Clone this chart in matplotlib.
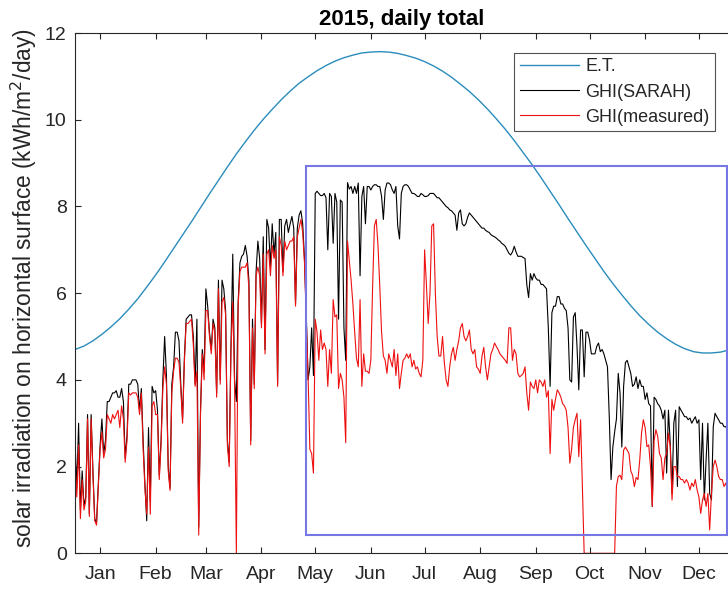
import numpy as np
import matplotlib
matplotlib.use("Agg")
import matplotlib.pyplot as plt
from matplotlib.patches import Rectangle

plt.rcParams['font.family'] = ['Liberation Sans', 'DejaVu Sans']

# ---- data -------------------------------------------------------------
days = np.arange(1, 366)

# extraterrestrial daily total (kWh/m^2/day), sampled every 5 days
et_days = [1, 6, 11, 16, 21, 26, 31, 36, 41, 46, 51, 56, 61, 66, 71, 76,
           81, 86, 91, 96, 101, 106, 111, 116, 121, 126, 131, 136, 141, 146,
           151, 156, 161, 166, 171, 176, 181, 186, 191, 196, 201, 206, 211,
           216, 221, 226, 231, 236, 241, 246, 251, 256, 261, 266, 271, 276,
           281, 286, 291, 296, 301, 306, 311, 316, 321, 326, 331, 336, 341,
           346, 351, 356, 361, 365]
et_values = [4.70, 4.78, 4.90, 5.05, 5.22, 5.41, 5.63, 5.87, 6.14, 6.42,
             6.72, 7.03, 7.34, 7.65, 7.97, 8.29, 8.60, 8.91, 9.21, 9.49,
             9.76, 10.01, 10.24, 10.46, 10.66, 10.84, 10.99, 11.13, 11.25,
             11.35, 11.43, 11.49, 11.54, 11.56, 11.57, 11.56, 11.53, 11.48,
             11.42, 11.34, 11.24, 11.12, 10.98, 10.82, 10.65, 10.46, 10.25,
             10.02, 9.78, 9.52, 9.24, 8.96, 8.66, 8.35, 8.04, 7.72, 7.41,
             7.10, 6.80, 6.50, 6.22, 5.96, 5.71, 5.48, 5.28, 5.10, 4.95,
             4.82, 4.72, 4.65, 4.62, 4.62, 4.64, 4.68]

# satellite-derived daily GHI
ghi_sarah = [
    2.6, 1.5, 3.0, 1.0, 1.9, 1.1, 1.3, 3.2, 0.9, 3.2,
    1.9, 0.8, 0.7, 1.6, 2.5, 3.1, 2.3, 2.6, 3.5, 3.5,
    3.6, 3.7, 3.7, 3.75, 3.6, 3.6, 3.8, 3.5, 2.2, 2.7,
    3.9, 3.9, 4.0, 4.0, 4.0, 3.9, 3.3, 3.8, 2.6, 1.6,
    0.75, 2.9, 1.2, 3.85, 3.7, 3.75, 3.3, 1.8, 2.6, 4.0,
    5.0, 4.1, 2.0, 1.5, 3.9, 4.3, 5.1, 5.1, 4.9, 3.9,
    3.1, 4.5, 5.4, 5.45, 5.5, 5.5, 5.0, 3.9, 5.4, 0.6,
    3.3, 4.7, 4.2, 6.1, 5.7, 5.1, 4.7, 5.4, 5.2, 3.7,
    6.3, 4.0, 6.3, 6.1, 5.6, 2.6, 2.1, 4.8, 6.9, 4.0,
    3.5, 5.8, 6.7, 6.85, 6.9, 7.1, 6.85, 6.3, 2.6, 5.4,
    3.9, 6.5, 7.2, 6.8, 5.3, 7.3, 4.7, 7.7, 7.5, 6.6,
    7.6, 6.9, 7.4, 3.9, 7.7, 7.7, 6.5, 7.55, 7.7, 7.4,
    7.6, 7.77, 7.5, 5.75, 7.5, 7.8, 7.9, 7.6, 6.8, 5.5,
    4.0, 4.3, 5.2, 4.1, 8.3, 8.35, 8.3, 8.25, 8.25, 8.3,
    8.2, 7.0, 8.3, 8.23, 7.15, 8.3, 8.1, 5.4, 8.15, 8.1,
    5.2, 4.45, 8.55, 8.4, 8.46, 8.3, 8.46, 8.3, 8.54, 6.4,
    8.23, 8.46, 7.6, 8.46, 8.46, 8.38, 8.46, 8.5, 8.5, 8.46,
    8.46, 8.23, 7.7, 8.38, 8.54, 8.54, 8.5, 8.38, 8.3, 8.46,
    7.55, 7.25, 8.3, 8.46, 8.5, 8.5, 8.46, 8.38, 8.3, 8.3,
    8.27, 8.23, 8.23, 8.3, 8.27, 8.23, 8.23, 8.25, 8.3, 8.3,
    8.3, 8.25, 8.2, 8.2, 8.15, 8.1, 8.05, 8.0, 7.97, 7.92,
    7.9, 7.85, 7.8, 7.45, 7.85, 7.92, 7.6, 7.55, 7.6, 7.75,
    7.85, 7.8, 7.75, 7.7, 7.65, 7.6, 7.55, 7.5, 7.5, 7.45,
    7.42, 7.4, 7.35, 7.32, 7.3, 7.27, 7.23, 7.2, 7.15, 7.12,
    7.08, 7.0, 6.92, 6.88, 6.95, 7.08, 6.95, 6.85, 6.85, 6.85,
    6.82, 6.8, 6.2, 5.9, 6.45, 6.3, 6.45, 6.35, 6.3, 6.3,
    6.2, 6.2, 6.15, 6.1, 5.2, 3.85, 5.55, 5.7, 5.7, 5.92,
    5.92, 5.75, 5.75, 5.65, 5.6, 5.2, 4.0, 3.95, 5.45, 5.55,
    4.77, 3.77, 5.15, 5.15, 4.07, 5.1, 5.1, 4.92, 4.6, 4.6,
    4.6, 4.77, 4.85, 4.65, 4.7, 4.6, 4.45, 4.3, 3.15, 1.7,
    2.45, 2.8, 3.1, 4.15, 3.7, 2.45, 3.85, 4.4, 4.45, 4.3,
    4.15, 3.85, 3.9, 4.07, 3.8, 4.0, 3.85, 3.85, 3.55, 3.7,
    3.45, 3.4, 1.08, 3.6, 3.55, 3.45, 3.4, 3.3, 3.1, 3.3,
    1.85, 3.3, 2.54, 1.38, 3.0, 3.3, 1.54, 3.38, 3.3, 3.23,
    3.15, 3.15, 3.08, 3.12, 3.0, 3.08, 3.15, 3.0, 3.08, 1.7,
    3.0, 1.23, 2.15, 3.0, 1.38, 1.23, 2.92, 3.23, 3.15, 3.08,
    3.0, 3.0, 2.92, 2.92, 2.85,
]

# ground-station daily GHI
ghi_measured = [
    2.1, 1.3, 2.5, 0.8, 1.7, 1.0, 1.2, 3.1, 0.85, 3.1,
    1.8, 0.75, 0.65, 1.5, 2.4, 2.8, 2.2, 2.4, 3.2, 3.1,
    3.0, 3.2, 3.1, 3.2, 3.3, 2.9, 3.4, 3.1, 2.1, 2.6,
    3.7, 3.65, 3.7, 3.7, 3.7, 3.6, 3.2, 3.7, 2.4, 1.5,
    0.9, 2.45, 0.9, 3.4, 3.5, 3.2, 3.2, 1.7, 2.5, 3.8,
    4.3, 3.9, 1.9, 1.45, 3.7, 4.2, 4.5, 4.5, 4.4, 3.8,
    3.0, 4.4, 5.3, 5.3, 5.35, 5.4, 4.8, 3.85, 4.2, 0.42,
    3.2, 4.6, 4.0, 5.6, 5.6, 5.0, 4.6, 5.3, 5.1, 3.6,
    6.1, 3.9, 5.8, 5.9, 5.5, 2.5, 2.0, 4.7, 5.8, 3.9,
    0.0, 5.7, 6.5, 6.6, 6.6, 6.6, 6.7, 6.1, 2.5, 5.2,
    3.8, 6.4, 6.6, 6.4, 5.2, 6.9, 4.6, 6.9, 7.0, 6.4,
    7.1, 6.8, 7.0, 3.85, 7.3, 7.1, 6.4, 7.2, 7.0, 7.1,
    7.2, 7.2, 7.3, 5.7, 7.3, 7.5, 7.7, 7.4, 6.7, 5.4,
    4.1, 2.4, 2.3, 1.85, 5.4, 5.1, 4.45, 5.15, 4.7, 4.85,
    4.7, 3.85, 4.7, 4.15, 5.85, 5.45, 5.5, 3.8, 4.15, 4.0,
    3.6, 2.55, 7.2, 6.75, 6.3, 5.75, 5.1, 4.5, 4.3, 5.85,
    3.85, 4.6, 4.2, 4.2, 4.15, 4.45, 6.15, 7.55, 7.7, 7.1,
    6.15, 5.1, 4.55, 4.45, 4.15, 4.6, 4.45, 4.3, 4.7, 4.1,
    4.6, 3.8, 4.15, 4.45, 4.5, 4.6, 4.5, 4.6, 4.3, 4.45,
    4.25, 4.3, 4.15, 4.07, 4.45, 7.0, 6.2, 5.3, 6.0, 7.55,
    7.6, 6.0, 5.0, 4.55, 4.55, 5.0, 4.4, 4.0, 3.85, 4.3,
    4.6, 4.75, 4.45, 4.7, 4.9, 5.2, 5.3, 5.0, 4.9, 5.0,
    5.15, 4.7, 4.6, 4.7, 4.3, 4.25, 4.15, 4.55, 4.75, 4.3,
    4.0, 4.3, 4.6, 4.7, 4.85, 4.77, 4.7, 4.6, 4.55, 4.5,
    4.45, 4.38, 5.2, 5.2, 4.45, 4.7, 4.6, 4.15, 4.07, 4.1,
    4.15, 4.3, 3.7, 3.3, 3.95, 3.85, 3.8, 4.0, 3.7, 4.0,
    3.95, 3.85, 4.0, 3.6, 3.75, 2.3, 3.55, 3.3, 3.55, 3.77,
    3.7, 3.6, 3.45, 3.4, 3.3, 2.9, 2.08, 2.4, 2.9, 3.08,
    3.23, 2.23, 3.08, 1.5, 0.0, 0.0, 0.0, 0.0, 0.0, 0.0,
    0.0, 0.0, 0.0, 0.0, 0.0, 0.0, 0.0, 0.0, 0.0, 0.0,
    0.0, 0.0, 1.55, 1.77, 1.8, 1.7, 2.38, 2.45, 2.38, 2.3,
    1.9, 1.8, 1.54, 1.75, 1.7, 2.15, 2.77, 3.08, 2.9, 2.46,
    2.5, 2.0, 1.08, 2.6, 2.85, 2.7, 2.3, 2.2, 1.7, 2.2,
    2.3, 2.77, 2.45, 1.23, 2.0, 2.0, 1.77, 1.77, 1.7, 1.7,
    1.62, 1.7, 1.62, 1.46, 1.62, 1.54, 1.7, 1.46, 1.3, 0.92,
    1.23, 1.38, 1.08, 1.38, 0.54, 1.38, 2.0, 2.15, 2.0, 1.77,
    1.7, 1.7, 1.54, 1.62, 1.46,
]

# mid-month tick positions (day of year) and labels
month_ticks = [15, 46, 74, 105, 135, 166, 196, 227, 258, 288, 319, 349]
month_labels = ['Jan', 'Feb', 'Mar', 'Apr', 'May', 'Jun',
                'Jul', 'Aug', 'Sep', 'Oct', 'Nov', 'Dec']

# highlighted period (day range, value range)
box_days = (130, 364.5)
box_vals = (0.42, 8.93)

# ---- figure -------------------------------------------------------------
axis_color = '#262626'
fig = plt.figure(figsize=(7.28, 5.92), dpi=100)
ax = fig.add_axes([75 / 728, 1 - 553.3 / 592, (727.6 - 75) / 728, (553.3 - 33) / 592])

ax.plot(et_days, et_values, color='#2a8cbc', lw=1.0, label='E.T.')
ax.plot(days, ghi_sarah, color='black', lw=0.8, label='GHI(SARAH)')
ax.plot(days, ghi_measured, color='#ee1010', lw=0.8, label='GHI(measured)')

ax.add_patch(Rectangle((box_days[0], box_vals[0]), box_days[1] - box_days[0],
                       box_vals[1] - box_vals[0], fill=False,
                       edgecolor='#7676e4', lw=1.5, zorder=5))

ax.set_xlim(1, 365)
ax.set_ylim(0, 12)
ax.set_xticks(month_ticks)
ax.set_xticklabels(month_labels)
ax.set_yticks(np.arange(0, 13, 2))

ax.tick_params(axis='both', direction='in', length=4.5, width=0.8,
               colors=axis_color, labelsize=14, top=True, right=False)
ax.tick_params(axis='x', pad=9)
ax.tick_params(axis='y', pad=6)
for side in ('left', 'bottom', 'top'):
    ax.spines[side].set_color(axis_color)
    ax.spines[side].set_linewidth(0.8)
ax.spines['right'].set_visible(False)

ax.set_title('2015, daily total', fontsize=16, fontweight='bold',
             color='black', pad=6)

fig.text(32 / 728, 1 - 288.5 / 592,
         'solar irradiation on horizontal surface (kWh/m$^2$/day)',
         rotation=90, rotation_mode='anchor', ha='center', va='baseline',
         fontsize=16.4, color=axis_color)

leg = ax.legend(loc='upper right', bbox_to_anchor=(0.981, 0.9616),
                borderaxespad=0, fontsize=13, frameon=True, fancybox=False,
                handlelength=3.3, handletextpad=0.35, labelspacing=0.45,
                borderpad=0.3)
leg.get_frame().set_edgecolor(axis_color)
leg.get_frame().set_linewidth(0.8)
for t in leg.get_texts():
    t.set_color(axis_color)

fig.savefig('out.png', dpi=100)
